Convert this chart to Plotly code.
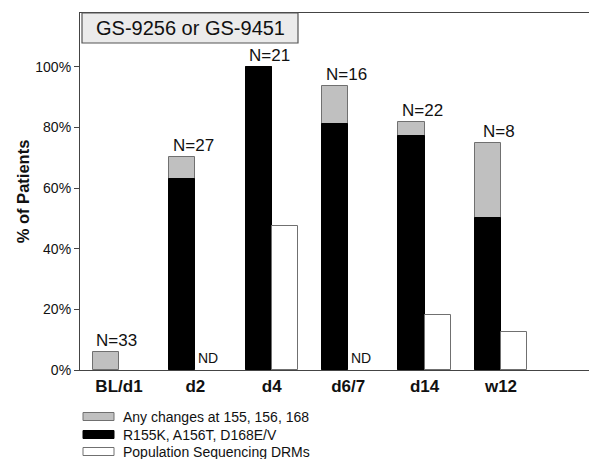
import plotly.graph_objects as go

categories = ["BL/d1", "d2", "d4", "d6/7", "d14", "w12"]
any_changes = [6.1, 70.4, 100.0, 93.75, 81.8, 75.0]
r155k_a156t_d168 = [None, 63.0, 100.0, 81.25, 77.3, 50.0]
pop_seq_drms = [None, None, 47.6, None, 18.2, 12.5]
not_done = [False, True, False, True, False, False]
n_patients = [33, 27, 21, 16, 22, 8]
y_ticks = [0, 20, 40, 60, 80, 100]
series_names = ["Any changes at 155, 156, 168", "R155K, A156T, D168E/V", "Population Sequencing DRMs"]

W, H = 589, 459
L, R, T, B = 80, 0, 13, 89
PW, PH = W - L - R, H - T - B
FONT = "Arial, Liberation Sans, Helvetica, sans-serif"
BW = 0.342

def px(x):
    return (x - L) / PW

def py(y):
    return (H - B - y) / PH

fig = go.Figure()
fig.add_trace(go.Bar(x=categories, y=any_changes, name=series_names[0], offset=-BW, width=BW,
                     marker=dict(color="#c0c0c0", line=dict(color="#707070", width=1)), showlegend=False))
fig.add_trace(go.Bar(x=categories, y=r155k_a156t_d168, name=series_names[1], offset=-BW, width=BW,
                     marker=dict(color="#000000", line=dict(color="#000000", width=1)), showlegend=False))
fig.add_trace(go.Bar(x=categories, y=pop_seq_drms, name=series_names[2], offset=0, width=BW,
                     marker=dict(color="#ffffff", line=dict(color="#707070", width=1)), showlegend=False))

annotations = []
for c, top, n in zip(categories, any_changes, n_patients):
    annotations.append(dict(x=c, y=top, xref="x", yref="y", text=f"N={n}", showarrow=False,
                            xanchor="center", yanchor="bottom", xshift=-2,
                            font=dict(family=FONT, size=17, color="#111")))
for i, nd in enumerate(not_done):
    if nd:
        annotations.append(dict(x=i + BW / 2, y=0, xref="x", yref="y", text="ND", showarrow=False,
                                xanchor="center", yanchor="bottom", yshift=2,
                                font=dict(family=FONT, size=14, color="#111")))

# title box
shapes = [dict(type="rect", xref="paper", yref="paper", x0=px(82), x1=px(298), y0=py(43), y1=py(13),
               fillcolor="#ebebeb", line=dict(color="#555", width=1.2), layer="above")]
annotations.append(dict(x=px(190), y=py(28.5), xref="paper", yref="paper", text="GS-9256 or GS-9451",
                        showarrow=False, xanchor="center", yanchor="middle",
                        font=dict(family=FONT, size=20, color="#111")))

# legend
legend_fills = ["#c0c0c0", "#000000", "#ffffff"]
legend_lines = ["#707070", "#000000", "#707070"]
rows = [416.5, 434.5, 451.5]
for name, fc, lc, ry in zip(series_names, legend_fills, legend_lines, rows):
    shapes.append(dict(type="rect", xref="paper", yref="paper", x0=px(83), x1=px(114),
                       y0=py(ry + 4), y1=py(ry - 4), fillcolor=fc, line=dict(color=lc, width=1)))
    annotations.append(dict(x=px(121), y=py(ry), xref="paper", yref="paper", text=name, showarrow=False,
                            xanchor="left", yanchor="middle",
                            font=dict(family=FONT, size=14, color="#111")))

fig.update_layout(
    width=W, height=H, margin=dict(l=L, r=R, t=T, b=B),
    paper_bgcolor="white", plot_bgcolor="white",
    barmode="overlay", bargap=0,
    shapes=shapes, annotations=annotations,
    font=dict(family=FONT, color="#111"),
    xaxis=dict(type="category", range=[-0.51, 6.152], showline=True, linecolor="#444", linewidth=1.2,
               mirror=True, ticks="", showgrid=False, zeroline=False,
               tickfont=dict(family=FONT, size=17, color="#111", weight="bold")),
    yaxis=dict(range=[0, 117.8], tickvals=y_ticks, ticktext=[f"{v}%" for v in y_ticks],
               showline=True, linecolor="#444", linewidth=1.2, ticks="outside", ticklen=5,
               tickcolor="#444", showgrid=False, zeroline=False,
               tickfont=dict(family=FONT, size=14, color="#111"),
               title=dict(text="% of Patients", standoff=1,
                          font=dict(family=FONT, size=16.5, color="#111", weight="bold"))),
)

fig.write_html("out.html")
